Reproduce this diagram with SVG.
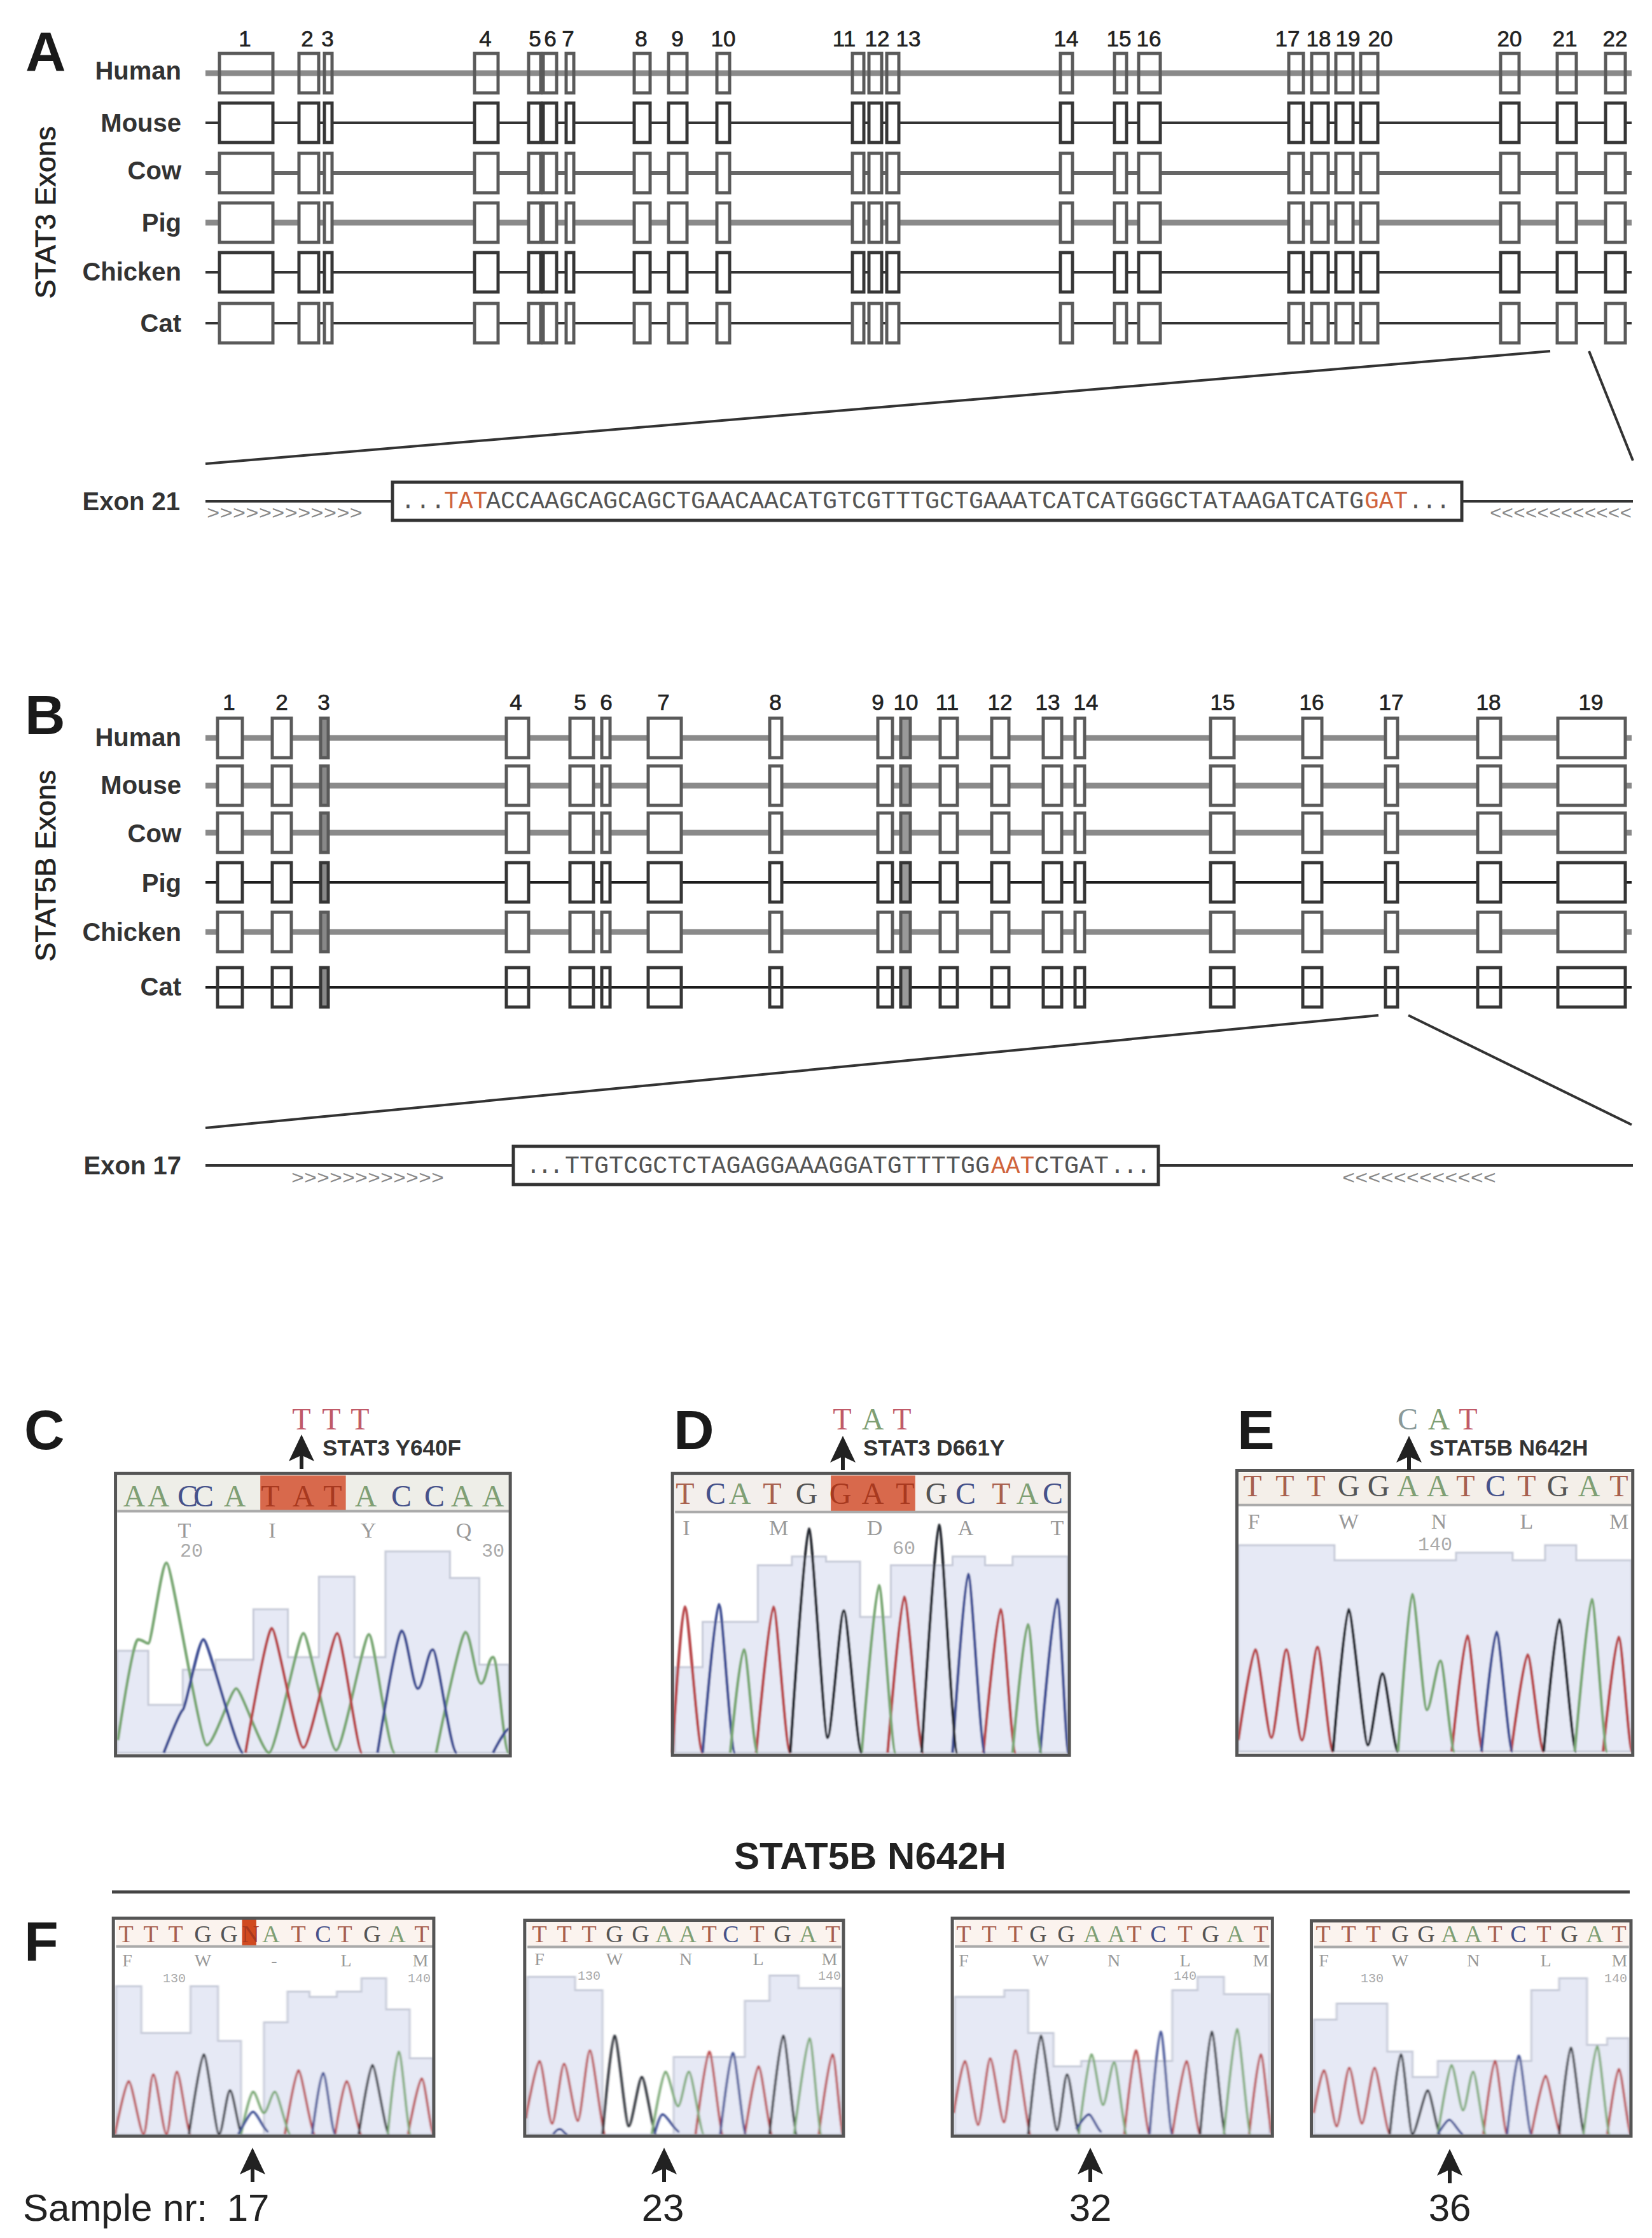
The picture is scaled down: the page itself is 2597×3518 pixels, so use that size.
<svg xmlns="http://www.w3.org/2000/svg" xmlns:xlink="http://www.w3.org/1999/xlink" width="2597" height="3518" viewBox="0 0 2597 3518">
<style>
text{font-family:"Liberation Sans",Arial,sans-serif;fill:#222}
.pl{font-size:88px;font-weight:700;fill:#1a1a1a}
.rl{font-size:40px;font-weight:700;text-anchor:end;fill:#333}
.n{font-size:35px;text-anchor:middle;fill:#222;stroke:#222;stroke-width:.7}
.v{font-size:45px;fill:#222;stroke:#222;stroke-width:.8}
.s{font-family:"Liberation Mono",monospace;font-size:38px;fill:#555}
.o{font-family:"Liberation Mono",monospace;font-size:38px;fill:#d0643c}
.ch{font-family:"Liberation Mono",monospace;font-size:30px;fill:#888}
.hd{font-family:"Liberation Serif",serif;font-size:48px;text-anchor:middle}
.hf{font-family:"Liberation Serif",serif;font-size:38px;text-anchor:middle}
.aa{font-family:"Liberation Serif",serif;font-size:34px;text-anchor:middle;fill:#999}
.af{font-family:"Liberation Serif",serif;font-size:28px;text-anchor:middle;fill:#999}
.no{font-family:"Liberation Mono",monospace;font-size:30px;text-anchor:middle;fill:#aaa}
.nf{font-family:"Liberation Mono",monospace;font-size:20px;text-anchor:middle;fill:#aaa}
.mu{font-size:35px;font-weight:700;fill:#333}
.big{font-size:60px;fill:#222}
.ti{font-size:60px;font-weight:700;fill:#222}
.a{fill:#7f9f74}.c{fill:#46528a}.g{fill:#555}.t{fill:#a8604e}.r{fill:#c05a68}.h{fill:#a8391f}
.light{fill:#fff;stroke:#5a5a5a;stroke-width:5}
.open{fill:none;stroke:#5a5a5a;stroke-width:5}
.dark{fill:#fff;stroke:#363636;stroke-width:5}
.thick{stroke:#8a8a8a;stroke-width:9}
.mid{stroke:#666;stroke-width:6}
.thin{stroke:#333;stroke-width:4}
.black{stroke:#1c1c1c;stroke-width:4}
.cn{stroke:#333;stroke-width:4;fill:none}
.ln{stroke:#333;stroke-width:4}
.box{fill:#fff;stroke:#333;stroke-width:5}
.tr{fill:none;stroke-width:4.5;stroke-linejoin:round;vector-effect:non-scaling-stroke}
.tf{fill:none;stroke-width:3.6;stroke-linejoin:round;vector-effect:non-scaling-stroke}
.R{stroke:#b8464a}.G{stroke:#7aa874}.B{stroke:#3f4f94}.K{stroke:#23262e}
.bar{fill:#e6e9f5;stroke:#c6cad8;stroke-width:3;vector-effect:non-scaling-stroke}
.fr{fill:none;stroke:#555;stroke-width:5;vector-effect:non-scaling-stroke}
.hb{stroke:#aaa;stroke-width:4;vector-effect:non-scaling-stroke}
</style>
<defs>
<filter id="soft" x="-5%" y="-5%" width="110%" height="110%"><feGaussianBlur stdDeviation="2 2.5"/></filter>
<g id="exA">
<rect x="345" y="-31" width="84" height="62"/><rect x="470" y="-31" width="31" height="62"/><rect x="510" y="-31" width="12" height="62"/><rect x="746" y="-31" width="37" height="62"/><rect x="831" y="-31" width="19" height="62"/><rect x="854" y="-31" width="21" height="62"/><rect x="890" y="-31" width="12" height="62"/><rect x="997" y="-31" width="25" height="62"/><rect x="1051" y="-31" width="29" height="62"/><rect x="1127" y="-31" width="20" height="62"/><rect x="1340" y="-31" width="18" height="62"/><rect x="1366" y="-31" width="20" height="62"/><rect x="1394" y="-31" width="19" height="62"/><rect x="1667" y="-31" width="19" height="62"/><rect x="1752" y="-31" width="19" height="62"/><rect x="1790" y="-31" width="34" height="62"/><rect x="2026" y="-31" width="23" height="62"/><rect x="2062" y="-31" width="26" height="62"/><rect x="2100" y="-31" width="27" height="62"/><rect x="2139" y="-31" width="27" height="62"/><rect x="2359" y="-31" width="29" height="62"/><rect x="2448" y="-31" width="30" height="62"/><rect x="2524" y="-31" width="31" height="62"/>
</g>
<g id="exB">
<rect x="342" y="-31" width="39" height="62"/><rect x="428" y="-31" width="30" height="62"/><rect x="504" y="-31" width="12" height="62" style="fill:#888"/><rect x="796" y="-31" width="35" height="62"/><rect x="896" y="-31" width="37" height="62"/><rect x="946" y="-31" width="13" height="62"/><rect x="1019" y="-31" width="52" height="62"/><rect x="1210" y="-31" width="19" height="62"/><rect x="1380" y="-31" width="23" height="62"/><rect x="1416" y="-31" width="15" height="62" style="fill:#999"/><rect x="1478" y="-31" width="27" height="62"/><rect x="1559" y="-31" width="27" height="62"/><rect x="1640" y="-31" width="29" height="62"/><rect x="1690" y="-31" width="15" height="62"/><rect x="1903" y="-31" width="37" height="62"/><rect x="2048" y="-31" width="30" height="62"/><rect x="2178" y="-31" width="19" height="62"/><rect x="2323" y="-31" width="36" height="62"/><rect x="2449" y="-31" width="106" height="62"/>
</g>
<polygon id="arrow" points="0,0 20,42 3,34 3,54 -3,54 -3,34 -20,42" fill="#222"/>
</defs>
<rect width="2597" height="3518" fill="#fff"/>

<g id="connectors">
<line class="cn" x1="323" y1="729" x2="2437" y2="552"/>
<line class="cn" x1="2498" y1="552" x2="2567" y2="724"/>
<line class="cn" x1="323" y1="1773" x2="2167" y2="1596"/>
<line class="cn" x1="2214" y1="1596" x2="2565" y2="1768"/>
<line class="ln" x1="323" y1="788" x2="617" y2="788"/>
<line class="ln" x1="2298" y1="788" x2="2567" y2="788"/>
<line class="ln" x1="323" y1="1832" x2="807" y2="1832"/>
<line class="ln" x1="1821" y1="1832" x2="2567" y2="1832"/>
</g>

<g id="panel-A">
<text class="pl" x="40" y="111">A</text>
<text class="v" transform="translate(87,334) rotate(-90)" text-anchor="middle">STAT3 Exons</text>
<g id="A-numbers">
<text class="n" x="385" y="73">1</text><text class="n" x="483" y="73">2</text><text class="n" x="515" y="73">3</text><text class="n" x="763" y="73">4</text><text class="n" x="841" y="73">5</text><text class="n" x="865" y="73">6</text><text class="n" x="893" y="73">7</text><text class="n" x="1008" y="73">8</text><text class="n" x="1065" y="73">9</text><text class="n" x="1137" y="73">10</text><text class="n" x="1327" y="73">11</text><text class="n" x="1379" y="73">12</text><text class="n" x="1428" y="73">13</text><text class="n" x="1676" y="73">14</text><text class="n" x="1759" y="73">15</text><text class="n" x="1806" y="73">16</text><text class="n" x="2024" y="73">17</text><text class="n" x="2073" y="73">18</text><text class="n" x="2119" y="73">19</text><text class="n" x="2170" y="73">20</text><text class="n" x="2373" y="73">20</text><text class="n" x="2460" y="73">21</text><text class="n" x="2539" y="73">22</text>
</g>
<g id="A-human"><text class="rl" x="285" y="125">Human</text><line class="thick" x1="323" y1="115" x2="2565" y2="115"/><use href="#exA" y="115" class="open"/></g>
<g id="A-mouse"><text class="rl" x="285" y="207">Mouse</text><line class="thin" x1="323" y1="193" x2="2565" y2="193"/><use href="#exA" y="193" class="dark"/></g>
<g id="A-cow"><text class="rl" x="285" y="282">Cow</text><line class="mid" x1="323" y1="272" x2="2565" y2="272"/><use href="#exA" y="272" class="light"/></g>
<g id="A-pig"><text class="rl" x="285" y="364">Pig</text><line class="thick" x1="323" y1="350" x2="2565" y2="350"/><use href="#exA" y="350" class="light"/></g>
<g id="A-chicken"><text class="rl" x="285" y="441">Chicken</text><line class="thin" x1="323" y1="428" x2="2565" y2="428"/><use href="#exA" y="428" class="dark"/></g>
<g id="A-cat"><text class="rl" x="285" y="522">Cat</text><line class="thin" x1="323" y1="508" x2="2565" y2="508"/><use href="#exA" y="508" class="light"/></g>
<g id="A-exon21">
<text class="rl" x="283" y="802">Exon 21</text>
<rect class="box" x="617" y="758" width="1681" height="60"/>
<text class="s" x="630" y="799" textLength="70" lengthAdjust="spacing">...</text>
<text class="o" x="698" y="799">TAT</text>
<text class="s" x="764" y="799" textLength="1380" lengthAdjust="spacingAndGlyphs">ACCAAGCAGCAGCTGAACAACATGTCGTTTGCTGAAATCATCATGGGCTATAAGATCATG</text>
<text class="o" x="2145" y="799">GAT</text>
<text class="s" x="2214" y="799" textLength="66" lengthAdjust="spacing">...</text>
<text class="ch" x="325" y="816" textLength="245" lengthAdjust="spacingAndGlyphs">&gt;&gt;&gt;&gt;&gt;&gt;&gt;&gt;&gt;&gt;&gt;&gt;</text>
<text class="ch" x="2342" y="816" textLength="223" lengthAdjust="spacingAndGlyphs">&lt;&lt;&lt;&lt;&lt;&lt;&lt;&lt;&lt;&lt;&lt;&lt;</text>
</g>
</g>

<g id="panel-B">
<text class="pl" x="39" y="1154">B</text>
<text class="v" transform="translate(87,1361) rotate(-90)" text-anchor="middle">STAT5B Exons</text>
<g id="B-numbers">
<text class="n" x="360" y="1116">1</text><text class="n" x="443" y="1116">2</text><text class="n" x="509" y="1116">3</text><text class="n" x="811" y="1116">4</text><text class="n" x="912" y="1116">5</text><text class="n" x="953" y="1116">6</text><text class="n" x="1043" y="1116">7</text><text class="n" x="1219" y="1116">8</text><text class="n" x="1380" y="1116">9</text><text class="n" x="1424" y="1116">10</text><text class="n" x="1489" y="1116">11</text><text class="n" x="1572" y="1116">12</text><text class="n" x="1647" y="1116">13</text><text class="n" x="1707" y="1116">14</text><text class="n" x="1922" y="1116">15</text><text class="n" x="2062" y="1116">16</text><text class="n" x="2187" y="1116">17</text><text class="n" x="2340" y="1116">18</text><text class="n" x="2501" y="1116">19</text>
</g>
<g id="B-human"><text class="rl" x="285" y="1173">Human</text><line class="thick" x1="323" y1="1160" x2="2565" y2="1160"/><use href="#exB" y="1160" class="light"/></g>
<g id="B-mouse"><text class="rl" x="285" y="1248">Mouse</text><line class="thick" x1="323" y1="1235" x2="2565" y2="1235"/><use href="#exB" y="1235" class="light"/></g>
<g id="B-cow"><text class="rl" x="285" y="1324">Cow</text><line class="thick" x1="323" y1="1309" x2="2565" y2="1309"/><use href="#exB" y="1309" class="light"/></g>
<g id="B-pig"><text class="rl" x="285" y="1402">Pig</text><line class="black" x1="323" y1="1387" x2="2565" y2="1387"/><use href="#exB" y="1387" class="dark"/></g>
<g id="B-chicken"><text class="rl" x="285" y="1479">Chicken</text><line class="thick" x1="323" y1="1465" x2="2565" y2="1465"/><use href="#exB" y="1465" class="light"/></g>
<g id="B-cat"><text class="rl" x="285" y="1565">Cat</text><line class="black" x1="323" y1="1552" x2="2565" y2="1552"/><use href="#exB" y="1552" style="fill:none;stroke:#363636;stroke-width:5"/></g>
<g id="B-exon17">
<text class="rl" x="285" y="1846">Exon 17</text>
<rect class="box" x="807" y="1802" width="1014" height="60"/>
<text class="s" x="827" y="1844" textLength="59" lengthAdjust="spacing">...</text>
<text class="s" x="888" y="1844" textLength="668" lengthAdjust="spacingAndGlyphs">TTGTCGCTCTAGAGGAAAGGATGTTTTGG</text>
<text class="o" x="1558" y="1844">AAT</text>
<text class="s" x="1626" y="1844" textLength="117" lengthAdjust="spacingAndGlyphs">CTGAT</text>
<text class="s" x="1745" y="1844" textLength="64" lengthAdjust="spacing">...</text>
<text class="ch" x="458" y="1861" textLength="240" lengthAdjust="spacingAndGlyphs">&gt;&gt;&gt;&gt;&gt;&gt;&gt;&gt;&gt;&gt;&gt;&gt;</text>
<text class="ch" x="2110" y="1861" textLength="242" lengthAdjust="spacingAndGlyphs">&lt;&lt;&lt;&lt;&lt;&lt;&lt;&lt;&lt;&lt;&lt;&lt;</text>
</g>
</g>

<g id="panel-C">
<text class="pl" x="38" y="2278">C</text>
<g transform="translate(0,2170) scale(.542,.3954)">
<rect x="335" y="370" width="1145" height="1122" fill="#fff"/>
<g filter="url(#soft)">
<path class="bar" d="M340,1480V1075H430V1290H530V1150H625V1110H735V910H835V1100H925V780H1028V1100H1118V680H1305V785H1390V1130H1476V1480Z"/>
<path class="tr G" d="M342,1430S385,1030 400,1030S420,1045 430,1045S468,725 483,725S580,1450 600,1450S670,1225 685,1225S760,1480 780,1480S865,1005 880,1005S955,1470 975,1470S1055,1010 1070,1010S1125,1480 1145,1480M1265,1480S1335,1000 1350,1000S1380,1205 1395,1205S1415,1100 1430,1100S1460,1480 1476,1480"/>
<path class="tr B" d="M475,1480S520,1320 530,1310S575,1030 590,1030S685,1480 705,1480M1095,1480S1150,995 1165,995S1197,1225 1212,1225S1240,1070 1255,1070S1305,1480 1325,1480M1430,1480S1465,1385 1476,1385"/>
<path class="tr R" d="M712,1480S773,985 788,985S860,1460 880,1460S963,1005 978,1005S1035,1480 1050,1480"/>
</g>
<rect x="340" y="378" width="1136" height="142" fill="#eeeee8"/>
<rect x="755" y="378" width="248" height="142" fill="#d8694c"/>
<line class="hb" x1="340" y1="520" x2="1476" y2="520"/>
<rect class="fr" x="335" y="370" width="1145" height="1122"/>
</g>
<text class="hd" x="474 521 566" y="2247"><tspan class="r">TTT</tspan></text>
<use href="#arrow" x="474" y="2255"/>
<text class="mu" x="507" y="2288">STAT3 Y640F</text>
<text class="hd" x="211 249 295 320 369 425 477 523 575 631 683 726 775" y="2368"><tspan class="a">AA</tspan><tspan class="c">CC</tspan><tspan class="a">A</tspan><tspan class="h">TAT</tspan><tspan class="a">A</tspan><tspan class="c">CC</tspan><tspan class="a">AA</tspan></text>
<text class="aa" x="290" y="2417">T</text><text class="aa" x="428" y="2417">I</text><text class="aa" x="579" y="2417">Y</text><text class="aa" x="729" y="2417">Q</text>
<text class="no" x="301" y="2447">20</text><text class="no" x="775" y="2447">30</text>
</g>

<g id="panel-D">
<text class="pl" x="1059" y="2278">D</text>
<g transform="translate(1000,2170) scale(.5102,.3954)">
<rect x="112" y="370" width="1223" height="1120" fill="#fff"/>
<g filter="url(#soft)">
<path class="bar" d="M120,1480V1140H205V960H375V735H480V700H585V720H690V940H785V735H975V700H1075V735H1160V700H1330V1480Z"/>
<path class="tr R" d="M112,1480S138,900 150,900S190,1480 205,1480M370,1480S411,900 423,900S460,1480 475,1480M775,1480S814,860 826,860S870,1480 885,1480M1070,1480S1111,910 1123,910S1155,1480 1170,1480"/>
<path class="tr B" d="M205,1480S243,890 255,890S290,1480 305,1480M975,1480S1011,770 1023,770S1060,1480 1075,1480M1245,1480S1285,870 1297,870S1322,1480 1333,1480"/>
<path class="tr G" d="M290,1480S320,1070 332,1070S360,1480 375,1480M695,1480S736,815 748,815S785,1480 800,1480M1160,1480S1195,970 1207,970S1235,1480 1250,1480"/>
<path class="tr K" d="M475,1480S520,590 532,590S578,1420 590,1420S628,915 640,915S680,1480 695,1480M880,1480S921,575 933,575S975,1480 990,1480"/>
</g>
<rect x="120" y="378" width="1210" height="145" fill="#f3efec"/>
<rect x="600" y="378" width="260" height="145" fill="#d8694c"/>
<line class="hb" x1="120" y1="523" x2="1330" y2="523"/>
<rect class="fr" x="112" y="370" width="1223" height="1120"/>
</g>
<text class="hd" x="1324 1372 1418" y="2247"><tspan class="r">T</tspan><tspan class="a">A</tspan><tspan class="r">T</tspan></text>
<use href="#arrow" x="1325" y="2257"/>
<text class="mu" x="1357" y="2288">STAT3 D661Y</text>
<text class="hd" x="1077 1125 1163 1214 1268 1321 1372 1423 1472 1518 1574 1615 1655" y="2364"><tspan class="t">T</tspan><tspan class="c">C</tspan><tspan class="a">A</tspan><tspan class="t">T</tspan><tspan class="g">G</tspan><tspan class="h">GAT</tspan><tspan class="g">G</tspan><tspan class="c">C</tspan><tspan class="t">T</tspan><tspan class="a">A</tspan><tspan class="c">C</tspan></text>
<text class="aa" x="1079" y="2413">I</text><text class="aa" x="1224" y="2413">M</text><text class="aa" x="1375" y="2413">D</text><text class="aa" x="1518" y="2413">A</text><text class="aa" x="1662" y="2413">T</text>
<text class="no" x="1421" y="2443">60</text>
</g>

<g id="panel-E">
<text class="pl" x="1945" y="2278">E</text>
<g transform="translate(1900,2170) scale(.4445,.3954)">
<rect x="100" y="358" width="1400" height="1132" fill="#fff"/>
<g filter="url(#soft)">
<path class="bar" d="M105,1475V655H445V715H875V685H1075V715H1190V655H1300V715H1495V1475Z"/>
<path class="tr R" d="M105,1430S152,1070 165,1070S208,1420 222,1420S262,1070 275,1070S316,1430 330,1430S372,1060 385,1060S425,1475 440,1475M860,1475S902,1015 915,1015S955,1475 970,1475M1070,1475S1115,1090 1128,1090S1170,1475 1185,1475M1395,1475S1437,1020 1450,1020S1485,1475 1498,1475"/>
<path class="tr K" d="M440,1475S482,910 495,910S550,1450 563,1450S602,1165 615,1165S655,1475 670,1475M1185,1475S1227,950 1240,950S1285,1475 1300,1475"/>
<path class="tr G" d="M670,1475S707,850 720,850S759,1310 772,1310S807,1115 820,1115S855,1475 870,1475M1295,1475S1342,870 1355,870S1395,1475 1410,1475"/>
<path class="tr B" d="M965,1475S1005,1000 1018,1000S1060,1475 1075,1475"/>
</g>
<rect x="105" y="366" width="1390" height="129" fill="#f4efe9"/>
<line class="hb" x1="105" y1="495" x2="1495" y2="495"/>
<rect class="fr" x="100" y="358" width="1400" height="1132"/>
</g>
<text class="hd" x="2213 2262 2308" y="2247"><tspan style="fill:#8a9a9a">C</tspan><tspan class="a">A</tspan><tspan class="r">T</tspan></text>
<use href="#arrow" x="2215" y="2257"/>
<text class="mu" x="2247" y="2288">STAT5B N642H</text>
<text class="hd" x="1969 2020 2069 2120 2167 2213 2260 2304 2351 2400 2449 2498 2545" y="2352"><tspan class="t">TTT</tspan><tspan class="g">GG</tspan><tspan class="a">AA</tspan><tspan class="t">T</tspan><tspan class="c">C</tspan><tspan class="t">T</tspan><tspan class="g">G</tspan><tspan class="a">A</tspan><tspan class="t">T</tspan></text>
<text class="aa" x="1971" y="2403">F</text><text class="aa" x="2120" y="2403">W</text><text class="aa" x="2262" y="2403">N</text><text class="aa" x="2400" y="2403">L</text><text class="aa" x="2545" y="2403">M</text>
<text class="no" x="2256" y="2437">140</text>
</g>

<g id="panel-F">
<text class="ti" x="1154" y="2938">STAT5B N642H</text>
<line x1="176" y1="2974" x2="2562" y2="2974" stroke="#444" stroke-width="5"/>
<text class="pl" x="38" y="3082">F</text>
<text class="big" x="36" y="3491">Sample nr:</text>

<g id="sample-17">
<g transform="translate(0,2860) scale(.861,.4196)">
<g filter="url(#soft)">
<path class="bar" d="M212,1180V625H258V800H348V625H398V830H440V1180H482V760H525V645H565V665H615V645H660V595H705V712H748V895H790V1180Z"/>
<path class="tf R" d="M210,1180S229,980 235,980S256,1180 262,1180S274,955 280,955S298,1180 304,1180S317,945 323,945S342,1180 348,1180M520,1180S539,940 545,940S568,1180 575,1180M612,1180S627,980 633,980S654,1180 660,1180M745,1180S764,970 770,970S786,1180 792,1180"/>
<path class="tf K" d="M345,1180S366,880 372,880S394,1180 400,1180S414,1015 420,1015S436,1180 442,1180M655,1180S674,920 680,920S704,1180 710,1180"/>
<path class="tf G" d="M440,1180S456,1020 462,1020S476,1100 482,1100S496,1020 502,1020S524,1180 530,1180M708,1180S722,870 728,870S744,1180 750,1180"/>
<path class="tf B" d="M435,1180S456,1095 462,1095S484,1170 490,1170M570,1180S584,950 590,950S606,1180 612,1180"/>
</g>
<rect x="212" y="374" width="578" height="100" fill="#fbf3ee"/>
<rect x="442" y="372" width="26" height="102" fill="#d04a20"/>
<line class="hb" x1="212" y1="476" x2="790" y2="476"/>
<rect class="fr" x="207" y="370" width="585" height="817"/>
</g>
<text class="hf" x="198 237 276 319 360 394 426 469 508 542 585 624 663" y="3053"><tspan class="t">TTT</tspan><tspan class="g">GG</tspan><tspan class="h">N</tspan><tspan class="a">A</tspan><tspan class="t">T</tspan><tspan class="c">C</tspan><tspan class="t">T</tspan><tspan class="g">G</tspan><tspan class="a">A</tspan><tspan class="t">T</tspan></text>
<text class="af" x="200" y="3091">F</text><text class="af" x="319" y="3091">W</text><text class="af" x="431" y="3091">-</text><text class="af" x="544" y="3091">L</text><text class="af" x="661" y="3091">M</text>
<text class="nf" x="274" y="3116">130</text><text class="nf" x="659" y="3116">140</text>
<use href="#arrow" x="397" y="3376"/>
<text class="big" x="390" y="3491" text-anchor="middle">17</text>
</g>

<g id="sample-23">
<g transform="translate(0,2860) scale(.861,.4196)">
<g filter="url(#soft)">
<path class="bar" d="M963,1180V590H1050V640H1100V1180H1230V890H1360V680H1405V585H1458V632H1536V1180Z"/>
<path class="tf R" d="M960,1120S979,905 985,905S1002,1140 1008,1140S1024,915 1030,915S1049,1130 1055,1130S1071,865 1077,865S1099,1180 1105,1180M1270,1180S1289,870 1295,870S1314,1180 1320,1180M1360,1180S1379,925 1385,925S1404,1180 1410,1180M1495,1180S1514,880 1520,880S1534,1180 1540,1180"/>
<path class="tf K" d="M1100,1180S1116,810 1122,810S1142,1150 1148,1150S1166,965 1172,965S1192,1180 1198,1180M1405,1180S1424,810 1430,810S1449,1180 1455,1180"/>
<path class="tf G" d="M1190,1180S1209,945 1215,945S1232,1075 1238,1075S1252,945 1258,945S1279,1180 1285,1180M1450,1180S1472,820 1478,820S1494,1180 1500,1180"/>
<path class="tf B" d="M1195,1180S1204,1105 1210,1105S1234,1170 1240,1170M1315,1180S1332,875 1338,875S1356,1180 1362,1180M1010,1180S1016,1160 1022,1160S1030,1180 1036,1180"/>
</g>
<rect x="963" y="384" width="572" height="92" fill="#fbf3ee"/>
<line class="hb" x1="963" y1="478" x2="1536" y2="478"/>
<rect class="fr" x="958" y="378" width="582" height="809"/>
</g>
<text class="hf" x="848 887 926 966 1007 1044 1081 1115 1149 1190 1230 1270 1309" y="3053"><tspan class="t">TTT</tspan><tspan class="g">GG</tspan><tspan class="a">AA</tspan><tspan class="t">T</tspan><tspan class="c">C</tspan><tspan class="t">T</tspan><tspan class="g">G</tspan><tspan class="a">A</tspan><tspan class="t">T</tspan></text>
<text class="af" x="848" y="3089">F</text><text class="af" x="966" y="3089">W</text><text class="af" x="1078" y="3089">N</text><text class="af" x="1192" y="3089">L</text><text class="af" x="1304" y="3089">M</text>
<text class="nf" x="926" y="3112">130</text><text class="nf" x="1304" y="3112">140</text>
<use href="#arrow" x="1044" y="3376"/>
<text class="big" x="1042" y="3491" text-anchor="middle">23</text>
</g>

<g id="sample-32">
<g transform="translate(1350,2860) scale(.795,.4196)">
<g filter="url(#soft)">
<path class="bar" d="M190,1180V665H288V640H335V800H385V925H440V905H620V640H670V590H722V655H812V1180Z"/>
<path class="tf R" d="M188,1100S204,905 210,905S230,1145 236,1145S254,895 260,895S281,1135 287,1135S304,865 310,865S334,1180 340,1180M525,1180S542,865 548,865S569,1180 575,1180M620,1180S642,905 648,905S669,1180 675,1180M772,1180S789,880 795,880S812,1180 818,1180"/>
<path class="tf K" d="M335,1180S354,810 360,810S386,1165 392,1165S406,955 412,955S429,1170 435,1170M675,1180S692,795 698,795S719,1180 725,1180"/>
<path class="tf G" d="M435,1180S454,880 460,880S477,1070 483,1070S499,910 505,910S524,1180 530,1180M722,1180S742,785 748,785S769,1180 775,1180"/>
<path class="tf B" d="M430,1160S449,1105 455,1105S474,1170 480,1170M575,1180S591,795 597,795S614,1180 620,1180"/>
</g>
<rect x="190" y="376" width="622" height="98" fill="#fbf3ee"/>
<line class="hb" x1="190" y1="476" x2="812" y2="476"/>
<rect class="fr" x="185" y="370" width="633" height="817"/>
</g>
<text class="hf" x="1515 1555 1596 1632 1676 1717 1755 1783 1821 1863 1903 1942 1982" y="3053"><tspan class="t">TTT</tspan><tspan class="g">GG</tspan><tspan class="a">AA</tspan><tspan class="t">T</tspan><tspan class="c">C</tspan><tspan class="t">T</tspan><tspan class="g">G</tspan><tspan class="a">A</tspan><tspan class="t">T</tspan></text>
<text class="af" x="1515" y="3091">F</text><text class="af" x="1636" y="3091">W</text><text class="af" x="1751" y="3091">N</text><text class="af" x="1863" y="3091">L</text><text class="af" x="1982" y="3091">M</text>
<text class="nf" x="1863" y="3112">140</text>
<use href="#arrow" x="1714" y="3376"/>
<text class="big" x="1714" y="3491" text-anchor="middle">32</text>
</g>

<g id="sample-36">
<g transform="translate(1350,2860) scale(.795,.4196)">
<g filter="url(#soft)">
<path class="bar" d="M900,1180V750H945V690H1045V870H1095V965H1145V905H1330V640H1385V595H1440V845H1480V820H1523V1180Z"/>
<path class="tf R" d="M900,1100S914,940 920,940S939,1150 945,1150S964,930 970,930S989,1140 995,1140S1014,930 1020,930S1044,1180 1050,1180M1235,1180S1252,905 1258,905S1276,1180 1282,1180M1330,1180S1352,960 1358,960S1382,1180 1388,1180M1480,1180S1497,935 1503,935S1521,1180 1527,1180"/>
<path class="tf K" d="M1050,1180S1066,880 1072,880S1089,1180 1095,1180S1119,1015 1125,1015S1144,1180 1150,1180M1385,1180S1402,855 1408,855S1429,1180 1435,1180"/>
<path class="tf G" d="M1145,1180S1166,920 1172,920S1189,1090 1195,1090S1209,945 1215,945S1234,1180 1240,1180M1433,1180S1454,850 1460,850S1479,1180 1485,1180"/>
<path class="tf B" d="M1145,1180S1162,1125 1168,1125S1189,1180 1195,1180M1282,1180S1299,885 1305,885S1324,1180 1330,1180"/>
</g>
<rect x="900" y="386" width="623" height="90" fill="#fbf3ee"/>
<line class="hb" x1="900" y1="478" x2="1523" y2="478"/>
<rect class="fr" x="895" y="380" width="632" height="807"/>
</g>
<text class="hf" x="2080 2120 2159 2201 2242 2279 2316 2350 2387 2427 2467 2507 2545" y="3053"><tspan class="t">TTT</tspan><tspan class="g">GG</tspan><tspan class="a">AA</tspan><tspan class="t">T</tspan><tspan class="c">C</tspan><tspan class="t">T</tspan><tspan class="g">G</tspan><tspan class="a">A</tspan><tspan class="t">T</tspan></text>
<text class="af" x="2081" y="3091">F</text><text class="af" x="2201" y="3091">W</text><text class="af" x="2316" y="3091">N</text><text class="af" x="2430" y="3091">L</text><text class="af" x="2546" y="3091">M</text>
<text class="nf" x="2157" y="3116">130</text><text class="nf" x="2540" y="3116">140</text>
<use href="#arrow" x="2279" y="3378"/>
<text class="big" x="2279" y="3491" text-anchor="middle">36</text>
</g>
</g>
</svg>
